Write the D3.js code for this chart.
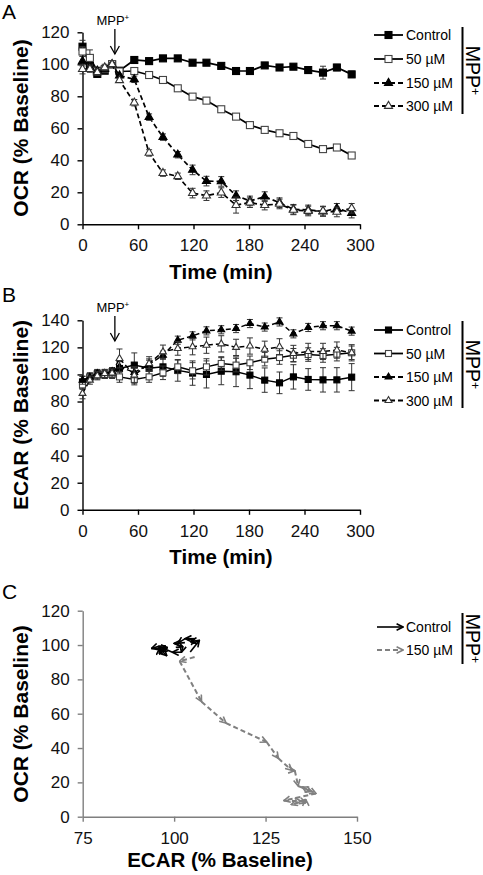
<!DOCTYPE html>
<html><head><meta charset="utf-8">
<script src="https://cdn.jsdelivr.net/npm/d3@7"></script>
<style>body{margin:0;background:#fff}svg{display:block;background:#fff}</style>
</head><body><svg id="c" width="483" height="875"></svg>
<script>
// ---------- data ----------
const times = [0,8,16,24,32,40,56,72,87,103,119,134,150,166,181,197,213,228,244,260,275,291];
const seriesNames = ["Control","50 µM","150 µM","300 µM"];

const ocrControl = [111,99,94,96,100,96,102.7,102,103.7,103.7,101,101,99,95.8,95.8,99.3,98,98.5,96.4,94.8,98,93.7];
const ocr50      = [108,104,96,97,100,95.5,95.8,93.3,90.2,85,79.8,77.3,71.9,67.3,62,59,56.9,55.2,50.2,47,48,43];
const ocr150     = [102,98,96,97,100,93,90.6,67,54.5,43.5,34,27,26.8,17.9,14.6,17.3,13.5,9.4,9,8,10,7];
const ocr300     = [97,97,95,98,100,90,76,44.6,32,30,19.5,17.9,19.8,12,13.5,12,12.7,9,8.3,8.3,7.7,10];
const ocrErrControl = [4,2,2,1,1,2,1,1,1,1,1,1,1,1,1,1,1,1,2,4,2,2];
const ocrErr50      = [3,5,2,2,1,1,1,1,1,1,1,1,1,1,1,1,1,1,1,1,1,1];
const ocrErr150     = [3,2,2,2,1,1,2,2,2,2,3,3,3,3,3,3,3,3,3,3,3,3];
const ocrErr300     = [3,2,2,2,1,1,2,2,2,2,3,3,3,5,3,3,3,3,3,3,3,3];

const ecarControl = [94.5,98,100.5,100,102,104.4,106.9,104.5,105.6,103,101,100,102.4,102,99.5,95.8,93.8,98.2,96.3,96,96,98];
const ecar50      = [92,98,99.6,100,100,98.2,96.3,98.2,101.2,105.6,102.7,105.6,108.1,106.9,108.6,111.3,112.5,114.2,114.7,114,115,116];
const ecar150     = [95.8,98,100.7,100.7,102.1,105.6,101.5,107.5,114.2,125.3,128.5,132.2,133,133.9,137.6,135,138.8,130,134.7,136,136,132];
const ecar300     = [86,95.8,99,100.7,101,111.8,99.5,108.1,116.7,119.2,120.5,121.6,122.6,120,121,118.6,120.4,115.5,117,117,118,116];
const ecarErrControl = [4,3,3,3,3,5,9,7,7,8,9,10,10,11,10,9,8,9,8,9,9,10];
const ecarErr50      = [3,3,3,3,3,4,4,4,5,5,6,6,5,5,5,5,5,5,5,5,5,5];
const ecarErr150     = [3,3,3,3,3,4,4,3,3,3,3,3,3,3,3,3,3,3,3,3,3,3];
const ecarErr300     = [4,3,3,3,3,7,6,5,5,5,6,6,6,6,6,6,6,6,6,6,6,6];

const timeTicks = [0,60,120,180,240,300];
const ocrTicks = [0,20,40,60,80,100,120];
const ecarTicks = [0,20,40,60,80,100,120,140];
const cEcarTicks = [75,100,125,150];
const injectionTime = 35;
const cStartIndex = 5;           // panel C starts after injection
const cNames = ["Control","150 µM"];

// ---------- setup ----------
const FONT = '"Liberation Sans", Arial, Helvetica, sans-serif';
const svg = d3.select("#c").attr("font-family", FONT);
const defs = svg.append("defs");

const xA = d3.scaleLinear().domain([0,300]).range([82.5,360]);
const yA = d3.scaleLinear().domain([0,120]).range([224.3,32.3]);
const yB = d3.scaleLinear().domain([0,140]).range([509.8,320.3]);
const xC = d3.scaleLinear().domain([75,150]).range([82.7,357]);
const yC = d3.scaleLinear().domain([0,120]).range([816.7,610.7]);

const styles = [
  {shape:"square",   fill:"#000", stroke:"#000", dash:null},
  {shape:"square",   fill:"#fff", stroke:"#444", dash:null},
  {shape:"triangle", fill:"#000", stroke:"#000", dash:"5,3"},
  {shape:"triangle", fill:"#fff", stroke:"#333", dash:"5,3"}
];

function drawAxes(x, y, xt, yt, color) {
  const ax = svg.append("g").attr("transform",`translate(0,${y.range()[0]})`)
    .call(d3.axisBottom(x).tickValues(xt).tickSize(5).tickSizeOuter(0).tickPadding(10).tickFormat(d3.format("d")));
  const ay = svg.append("g").attr("transform",`translate(${x.range()[0]},0)`)
    .call(d3.axisLeft(y).tickValues(yt).tickSize(5).tickSizeOuter(0).tickPadding(8).tickFormat(d3.format("d")));
  [ax, ay].forEach(a => {
    a.attr("font-family", FONT).attr("font-size", 17);
    a.select(".domain").attr("stroke", color).attr("stroke-width", 1.4);
    a.selectAll(".tick line").attr("stroke", color).attr("stroke-width", 1.4);
    a.selectAll(".tick text").attr("fill", "#111");
  });
}

function marker(sel, shape, s, fill, stroke) {
  if (shape === "square") {
    sel.append("rect").attr("x",-s/2).attr("y",-s/2).attr("width",s).attr("height",s)
      .attr("fill",fill).attr("stroke",stroke).attr("stroke-width",1.1);
  } else {
    const t = s*1.15;
    sel.append("path").attr("d",`M0,${-t*0.577}L${t/2},${t*0.289}L${-t/2},${t*0.289}Z`)
      .attr("fill",fill).attr("stroke",stroke).attr("stroke-width",1.1);
  }
}

function drawSeries(x, y, vals, errs, st, ms, lw) {
  const pts = times.map((t,i)=>({t:t, v:vals[i], e:errs[i]}));
  svg.append("path").datum(pts)
    .attr("d", d3.line().x(d=>x(d.t)).y(d=>y(d.v)))
    .attr("fill","none").attr("stroke","#000").attr("stroke-width",lw)
    .attr("stroke-dasharray", st.dash);
  const eb = svg.append("g").attr("stroke","#333").attr("stroke-width",1);
  pts.forEach(d => {
    const cx = x(d.t), y1 = y(d.v + d.e), y2 = y(d.v - d.e);
    eb.append("line").attr("x1",cx).attr("x2",cx).attr("y1",y1).attr("y2",y2);
    eb.append("line").attr("x1",cx-3).attr("x2",cx+3).attr("y1",y1).attr("y2",y1);
    eb.append("line").attr("x1",cx-3).attr("x2",cx+3).attr("y1",y2).attr("y2",y2);
  });
  pts.forEach(d => {
    const g = svg.append("g").attr("transform",`translate(${x(d.t)},${y(d.v)})`);
    marker(g, st.shape, ms, st.fill, st.stroke);
  });
}

function mppText(sel, size, shift) {
  sel.append("tspan").text("MPP");
  sel.append("tspan").attr("font-size", size*0.62).attr("dy", -size*shift).text("+");
}

function legendBar(yTop, yBot) {
  svg.append("line").attr("x1",462.5).attr("x2",462.5).attr("y1",yTop).attr("y2",yBot)
    .attr("stroke","#000").attr("stroke-width",2);
  const t = svg.append("text").attr("text-anchor","middle").attr("font-size",19.5)
    .attr("transform",`translate(466,${(yTop+yBot)/2}) rotate(90)`);
  mppText(t, 19.5, 0.25);
}

function legendAB(ys, ms) {
  seriesNames.forEach((n,i) => {
    const st = styles[i], yy = ys[i];
    svg.append("line").attr("x1",374).attr("x2",403).attr("y1",yy).attr("y2",yy)
      .attr("stroke","#000").attr("stroke-width",1.8).attr("stroke-dasharray",st.dash);
    const g = svg.append("g").attr("transform",`translate(388.5,${yy})`);
    marker(g, st.shape, ms, st.fill, st.stroke);
    svg.append("text").attr("x",406).attr("y",yy).attr("dy","0.36em").attr("font-size",14).text(n);
  });
}

function injection(x, baseY) {
  const cx = x(injectionTime);
  const t = svg.append("text").attr("x",cx-2).attr("y",baseY).attr("text-anchor","middle").attr("font-size",13);
  mppText(t, 13, 0.38);
  const y1 = baseY + 4, y2 = baseY + 29;
  svg.append("line").attr("x1",cx).attr("x2",cx).attr("y1",y1).attr("y2",y2).attr("stroke","#000").attr("stroke-width",1.3);
  svg.append("path").attr("d",`M${cx-4.5},${y2-8}L${cx},${y2}L${cx+4.5},${y2-8}`)
    .attr("fill","none").attr("stroke","#000").attr("stroke-width",1.3);
}

function yTitle(text, cy) {
  svg.append("text").attr("transform",`translate(28,${cy}) rotate(-90)`).attr("text-anchor","middle")
    .attr("font-size",21).attr("font-weight","bold").text(text);
}
function xTitle(text, cx, y) {
  svg.append("text").attr("x",cx).attr("y",y).attr("text-anchor","middle")
    .attr("font-size",20.5).attr("font-weight","bold").text(text);
}
function panelLetter(l, y) {
  svg.append("text").attr("x",2).attr("y",y).attr("font-size",21).text(l);
}

// ---------- Panel A ----------
panelLetter("A", 19);
drawAxes(xA, yA, timeTicks, ocrTicks, "#000");
const ocrVals = [ocrControl, ocr50, ocr150, ocr300];
const ocrErrs = [ocrErrControl, ocrErr50, ocrErr150, ocrErr300];
ocrVals.forEach((v,i) => drawSeries(xA, yA, v, ocrErrs[i], styles[i], 7, 1.7));
injection(xA, 25);
yTitle("OCR (% Baseline)", 128);
xTitle("Time (min)", 221, 279);
legendAB([35,59,83,106], 7);
legendBar(27, 114);

// ---------- Panel B ----------
panelLetter("B", 302);
drawAxes(xA, yB, timeTicks, ecarTicks, "#000");
const ecarVals = [ecarControl, ecar50, ecar150, ecar300];
const ecarErrs = [ecarErrControl, ecarErr50, ecarErr150, ecarErr300];
ecarVals.forEach((v,i) => drawSeries(xA, yB, v, ecarErrs[i], styles[i], 6, 1.5));
injection(xA, 312);
yTitle("ECAR (% Baseline)", 415);
xTitle("Time (min)", 221, 564);
legendAB([330,353.5,377,400.5], 6);
legendBar(321, 408);

// ---------- Panel C ----------
panelLetter("C", 599);
drawAxes(xC, yC, cEcarTicks, ocrTicks, "#7f7f7f");
function arrowMarker(id, color) {
  defs.append("marker").attr("id",id).attr("viewBox","0 0 10 10").attr("refX",9).attr("refY",5)
    .attr("markerWidth",8).attr("markerHeight",8).attr("markerUnits","userSpaceOnUse").attr("orient","auto")
    .append("path").attr("d","M1,1L9,5L1,9").attr("fill","none").attr("stroke",color).attr("stroke-width",2);
}
arrowMarker("arrBlack","#000");
arrowMarker("arrGray","#808080");
const cStyles = [{color:"#000", dash:null, m:"arrBlack", lw:1.6}, {color:"#808080", dash:"5,3", m:"arrGray", lw:2}];
const cPairs = [[ecarControl, ocrControl], [ecar150, ocr150]];
cPairs.forEach((p,k) => {
  const st = cStyles[k];
  for (let i = cStartIndex; i < times.length-1; i++) {
    svg.append("line")
      .attr("x1",xC(p[0][i])).attr("y1",yC(p[1][i]))
      .attr("x2",xC(p[0][i+1])).attr("y2",yC(p[1][i+1]))
      .attr("stroke",st.color).attr("stroke-width",st.lw).attr("stroke-dasharray",st.dash)
      .attr("marker-end",`url(#${st.m})`);
  }
});
yTitle("OCR (% Baseline)", 714);
xTitle("ECAR (% Baseline)", 220, 867);
cNames.forEach((n,k) => {
  const st = cStyles[k], yy = [627,650][k];
  svg.append("line").attr("x1",377).attr("x2",403).attr("y1",yy).attr("y2",yy)
    .attr("stroke",st.color).attr("stroke-width",st.lw).attr("stroke-dasharray",st.dash)
    .attr("marker-end",`url(#${st.m})`);
  svg.append("text").attr("x",406).attr("y",yy).attr("dy","0.36em").attr("font-size",14).text(n);
});
legendBar(613, 664);
</script></body></html>
